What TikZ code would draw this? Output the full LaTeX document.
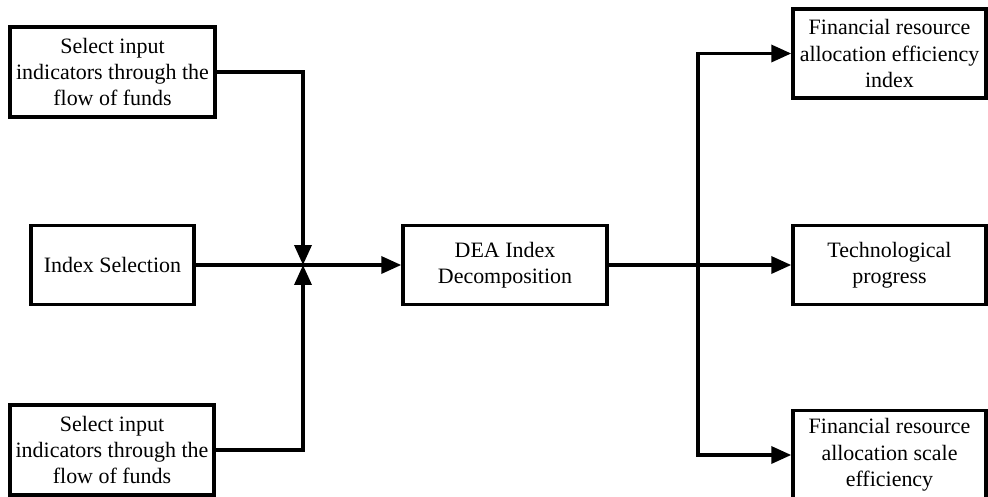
\documentclass[tikz,border=0pt]{standalone}
\usepackage{fontspec}
\setmainfont{Liberation Serif}
\usepackage{tikz}
\usetikzlibrary{arrows.meta, positioning}
\tikzset{
  blockbox/.style={draw=black, line width=2pt, fill=white, align=center,
    inner sep=2pt, font=\fontsize{12.5}{15}\selectfont},
  flowline/.style={draw=black, line width=2pt, line join=miter,
    -{Triangle[length=0.4cm, width=0.34cm]}},
}

\begin{document}
\begin{tikzpicture}[x=0.02cm, y=-0.02cm]
        \useasboundingbox (0,0) rectangle (988,497);
        % left column
        \node[blockbox, minimum width=4.1cm, minimum height=1.8cm] (selA) at (112.5,72)
          {Select input\\indicators through the\\flow of funds};
        \node[blockbox, minimum width=3.26cm, minimum height=1.58cm] (idx) at (112.5,265)
          {Index Selection};
        \node[blockbox, minimum width=4.08cm, minimum height=1.8cm] (selB) at (112,450)
          {Select input\\indicators through the\\flow of funds};
        % middle
        \node[blockbox, minimum width=4.08cm, minimum height=1.58cm] (dea) at (505,265)
          {DEA Index\\Decomposition};
        % right column
        \node[blockbox, minimum width=3.86cm, minimum height=1.78cm] (effi) at (889.5,53.5)
          {Financial resource\\allocation efficiency\\index};
        \node[blockbox, minimum width=3.86cm, minimum height=1.58cm] (tech) at (889.5,265)
          {Technological\\progress};
        \node[blockbox, minimum width=3.86cm, minimum height=1.78cm] (scal) at (889.5,455)
          {Financial resource\\allocation scale\\efficiency};
        \coordinate (jn) at (303,265);
        \coordinate (sp) at (698,265);
        % connectors
        \draw[flowline] (selA.east) -| (jn);
        \draw[flowline] (selB.east) -| (jn);
        \draw[flowline] (idx.east) -- (dea.west);
        \draw[flowline] (dea.east) -- (tech.west);
        \draw[flowline] (sp) |- (effi.west);
        \draw[flowline] (sp) |- (scal.west);
      \end{tikzpicture}
\end{document}
